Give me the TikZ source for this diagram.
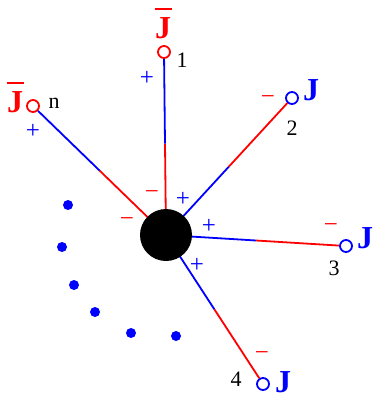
\documentclass[tikz,border=0pt]{standalone}
\usepackage{fontspec}
\setmainfont{Liberation Serif}
\usetikzlibrary{calc}
\begin{document}
\begin{tikzpicture}[x=1pt,y=-1pt,
  endpt/.style={circle,draw=#1,line width=1.8pt,minimum size=12pt,inner sep=0pt,fill=white},
  leg/.style={line width=1.8pt},
  bigJ/.style={font=\fontsize{32}{32}\selectfont\bfseries,inner sep=0pt},
  num/.style={font=\fontsize{22}{22}\selectfont,inner sep=0pt,text=black},
  sgn/.style={font=\fontsize{25}{25}\selectfont,inner sep=0pt},
  dotn/.style={circle,fill=blue,minimum size=10pt,inner sep=0pt}]
\useasboundingbox (0,0) rectangle (374,399);
\coordinate (c) at (166,235);
\node[endpt=red]  (e1) at (164,52) {};
\node[endpt=red]  (en) at (33,106) {};
\node[endpt=blue] (e2) at (292,98) {};
\node[endpt=blue] (e3) at (346,246) {};
\node[endpt=blue] (e4) at (263,384) {};
\foreach \e/\ci/\co in {e1/red/blue, en/red/blue, e2/blue/red, e3/blue/red, e4/blue/red}{
  \draw[leg,\ci] (c) -- ($(c)!0.5!(\e)$);
  \draw[leg,\co] ($(c)!0.5!(\e)$) -- (\e);
}
\node[circle,fill=black,minimum size=52pt,inner sep=0pt] (blob) at (c) {};
% labels
\node[bigJ,red] (j1) at (163,28) {J};
\draw[red,line width=1.6pt] (j1.north) ++(-8.5,-8) -- ++(17,0);
\node[bigJ,red] (jn) at (15,102) {J};
\draw[red,line width=1.6pt] (jn.north) ++(-8.5,-8) -- ++(17,0);
\node[bigJ,blue] (j2) at (311,90) {J};
\node[bigJ,blue] (j3) at (365,238) {J};
\node[bigJ,blue] (j4) at (283,382) {J};
\node[num] (n1) at (182,60) {1};
\node[num] (nn) at (54,103) {n};
\node[num] (n2) at (292,128) {2};
\node[num] (n3) at (334,268) {3};
\node[num] (n4) at (236,379) {4};
\node[sgn,blue] (s1) at (147,78) {+};
\node[sgn,blue] (sn) at (33,131) {+};
\node[sgn,red] (s2) at (268,100) {−};
\node[sgn,red] (s3) at (331,228) {−};
\node[sgn,red] (s4) at (262,356) {−};
\node[sgn,red] (sa) at (152,195) {−};
\node[sgn,blue] (sb) at (183,199) {+};
\node[sgn,blue] (sc) at (209,226) {+};
\node[sgn,blue] (sd) at (197,265) {+};
\node[sgn,red] (se) at (127,222) {−};
% dots
\node[dotn] (d1) at (68,205) {};
\node[dotn] (d2) at (62,247) {};
\node[dotn] (d3) at (74,285) {};
\node[dotn] (d4) at (95,312) {};
\node[dotn] (d5) at (131,333) {};
\node[dotn] (d6) at (176,336) {};
\end{tikzpicture}
\end{document}
